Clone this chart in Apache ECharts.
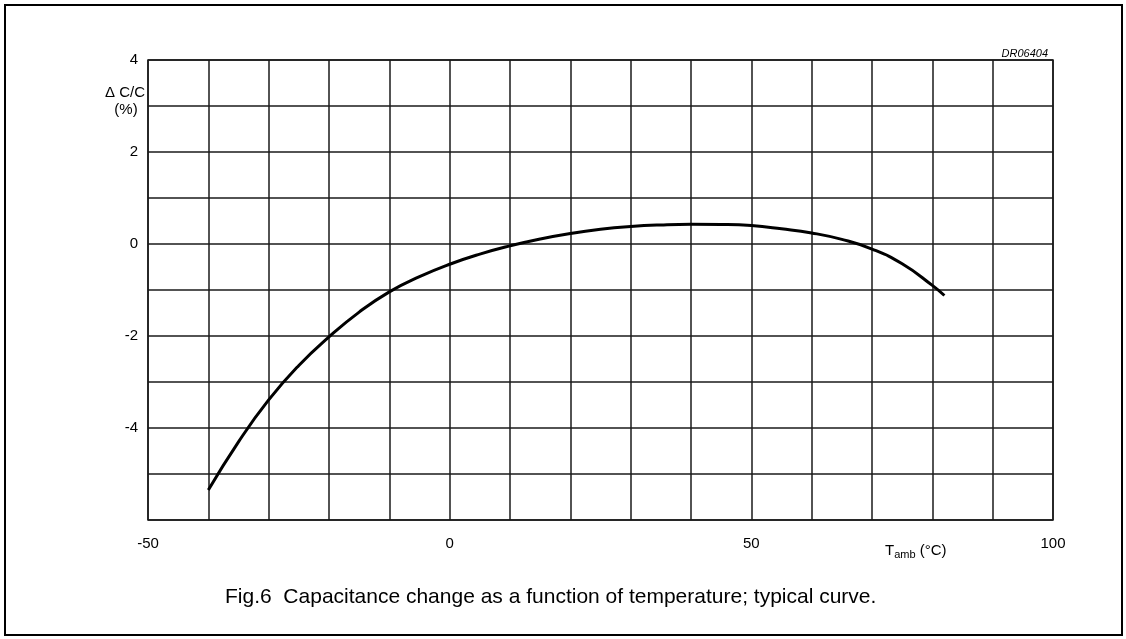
<!DOCTYPE html>
<html>
<head>
<meta charset="utf-8">
<script src="https://cdn.jsdelivr.net/npm/echarts@6/dist/echarts.min.js"></script>
<style>
  html, body { margin: 0; padding: 0; background: #fff; }
  #chart { width: 1126px; height: 639px; }
</style>
</head>
<body>
<div id="chart"></div>
<script>
// temperature (deg C) and capacitance change (%)
var temps = [-40, -35, -30, -25, -20, -15, -10, -5, 0, 5, 10, 15, 20, 25, 30, 35, 40, 45, 50, 55, 60, 65, 70, 75, 80, 82];
var dcc = [-5.35, -4.3, -3.39, -2.64, -2.02, -1.48, -1.04, -0.71, -0.44, -0.22, -0.04, 0.11, 0.23, 0.32, 0.38, 0.415, 0.43, 0.425, 0.4, 0.33, 0.24, 0.1, -0.11, -0.43, -0.9, -1.12];
var xTickLabels = [-50, 0, 50, 100];
var yTickLabels = [-4, -2, 0, 2, 4];

var font = 'Liberation Sans, Arial, sans-serif';
var lineColor = '#1a1a1a';

var chart = echarts.init(document.getElementById('chart'));
var option = {
    backgroundColor: '#fff',
    animation: false,
    grid: {
        left: 148,
        top: 60,
        right: 73,
        bottom: 119,
        show: true,
        borderColor: lineColor,
        borderWidth: 1.5
    },
    xAxis: {
        type: 'value',
        min: -50,
        max: 100,
        interval: 10,
        axisLine: { show: false },
        axisTick: { show: false },
        splitLine: { show: true, lineStyle: { color: lineColor, width: 1.5 } },
        axisLabel: {
            margin: 16,
            fontSize: 15,
            fontFamily: font,
            color: '#000',
            formatter: function (v) {
                return xTickLabels.indexOf(v) >= 0 ? String(v) : '';
            }
        }
    },
    yAxis: {
        type: 'value',
        min: -6,
        max: 4,
        interval: 1,
        axisLine: { show: false },
        axisTick: { show: false },
        splitLine: { show: true, lineStyle: { color: lineColor, width: 1.5 } },
        axisLabel: {
            margin: 10,
            fontSize: 15,
            fontFamily: font,
            color: '#000',
            formatter: function (v) {
                return yTickLabels.indexOf(v) >= 0 ? String(v) : '';
            }
        }
    },
    series: [
        {
            type: 'line',
            data: temps.map(function (t, i) { return [t, dcc[i]]; }),
            smooth: 0.5,
            showSymbol: false,
            lineStyle: { color: '#000', width: 3 }
        }
    ],
    graphic: [
        {
            type: 'rect',
            shape: { x: 5, y: 5, width: 1117, height: 630 },
            style: { fill: 'none', stroke: '#000', lineWidth: 2 }
        },
        {
            type: 'text',
            x: 125, y: 93,
            style: { text: 'Δ C/C', font: '15px ' + font, fill: '#000', align: 'center', verticalAlign: 'middle' }
        },
        {
            type: 'text',
            x: 126, y: 110,
            style: { text: '(%)', font: '15px ' + font, fill: '#000', align: 'center', verticalAlign: 'middle' }
        },
        {
            type: 'text',
            x: 1048, y: 54,
            style: { text: 'DR06404', font: 'italic 11px ' + font, fill: '#000', align: 'right', verticalAlign: 'middle' }
        },
        {
            type: 'text',
            x: 885, y: 551,
            style: {
                text: '{t|T}{s|amb}{t| (°C)}',
                verticalAlign: 'middle',
                rich: {
                    t: { fontSize: 15, fontFamily: font, color: '#000' },
                    s: { fontSize: 11, fontFamily: font, color: '#000', padding: [8, 0, 0, 0] }
                }
            }
        },
        {
            type: 'text',
            x: 225, y: 597,
            style: {
                text: 'Fig.6  Capacitance change as a function of temperature; typical curve.',
                font: '21px ' + font,
                fill: '#000',
                align: 'left',
                verticalAlign: 'middle'
            }
        }
    ]
};
chart.setOption(option);
window.onresize = chart.resize;
</script>
</body>
</html>
